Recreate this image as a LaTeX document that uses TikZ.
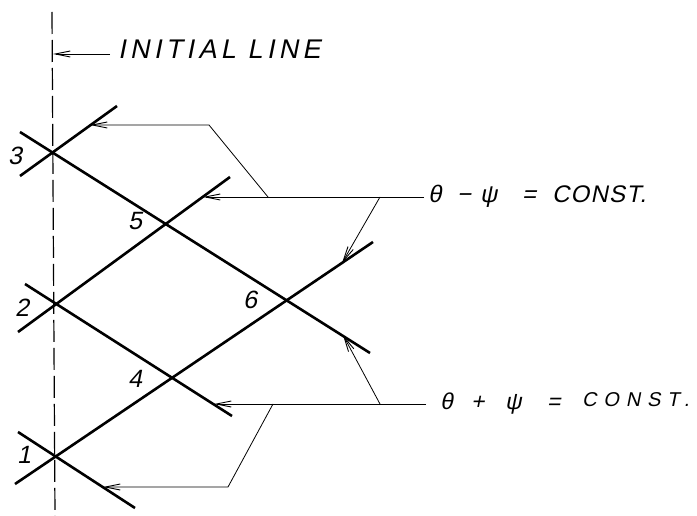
\documentclass[tikz,border=0pt]{standalone}
\usepackage{fontspec}
\newfontfamily\hand{Liberation Sans}[FakeSlant=0.2]
\newfontfamily\handA{Liberation Sans}[FakeSlant=0.2,LetterSpace=16]
\newfontfamily\handB{Liberation Sans}[FakeSlant=0.2,LetterSpace=5]
\newfontfamily\handC{Liberation Sans}[FakeSlant=0.2,LetterSpace=34]
\usetikzlibrary{arrows.meta}
\begin{document}
\begin{tikzpicture}[x=1pt,y=-1pt,
  char/.style={line width=2.6pt},
  lead/.style={line width=0.8pt},
  arr/.style={lead,-{Straight Barb[length=15pt,width=6pt,line width=0.9pt]}},
  initline/.style={line width=1.2pt,dash pattern=on 22pt off 6pt},
  num/.style={font=\hand\fontsize{25}{25}\selectfont,inner sep=0pt},
  lbl/.style={inner sep=0pt,anchor=base west},
  eqA/.style={lbl,font=\hand\fontsize{24}{24}\selectfont},
  eqB/.style={lbl,font=\hand\fontsize{23}{23}\selectfont}]
\useasboundingbox (0,0) rectangle (697,516);
% initial line
\coordinate (iltop) at (52,12);
\coordinate (ilbot) at (55,516);
\draw[initline] (iltop) -- (ilbot);
% characteristic lines
\coordinate (a1) at (20,132);  \coordinate (a2) at (370,353);
\coordinate (b1) at (18,332);  \coordinate (b2) at (230,177);
\coordinate (c1) at (20,176);  \coordinate (c2) at (117,106);
\coordinate (d1) at (25,284);  \coordinate (d2) at (232,416);
\coordinate (e1) at (15,484);  \coordinate (e2) at (373,242);
\coordinate (f1) at (18,432);  \coordinate (f2) at (135,508);
\draw[char] (a1) -- (a2);
\draw[char] (b1) -- (b2);
\draw[char] (c1) -- (c2);
\draw[char] (d1) -- (d2);
\draw[char] (e1) -- (e2);
\draw[char] (f1) -- (f2);
% point labels
\node[num] (n3) at (15,156) {3};
\node[num] (n5) at (135,221) {5};
\node[num] (n2) at (22,308) {2};
\node[num] (n6) at (250,300) {6};
\node[num] (n4) at (135,379) {4};
\node[num] (n1) at (24,455) {1};
% INITIAL LINE label
\node[lbl] (tinit) at (118,59) {\handA\fontsize{27}{27}\selectfont INITIAL LINE};
\coordinate (ilS) at (110,54);
\coordinate (ilT) at (53,54);
\draw[arr] (ilS) -- (ilT);
% theta - psi = CONST.
\node[eqA] (mth) at (428,203) {θ};
\node[eqA] (mmi) at (457,203) {−};
\node[eqA] (mps) at (480,203) {ψ};
\node[eqA] (meq) at (522,203) {=};
\node[lbl] (mco) at (552,203) {\handB\fontsize{24}{24}\selectfont CONST.};
\coordinate (mR) at (424,197);
\coordinate (mA) at (203,197);
\coordinate (mK) at (268,197);
\coordinate (mU) at (209,125);
\coordinate (mT) at (90,125);
\coordinate (mK2) at (380,197);
\coordinate (mT2) at (342,263);
\draw[arr] (mR) -- (mA);
\draw[arr] (mK) -- (mU) -- (mT);
\draw[arr] (mK2) -- (mT2);
% theta + psi = CONST.
\node[eqB] (pth) at (440,409) {θ};
\node[eqB] (ppl) at (471,409) {+};
\node[eqB] (pps) at (505,409) {ψ};
\node[eqB] (peq) at (547,409) {=};
\node[lbl] (pco) at (582,406) {\handC\fontsize{20}{20}\selectfont CONST.};
\coordinate (pR) at (426,404);
\coordinate (pA) at (214,404);
\coordinate (pK) at (273,404);
\coordinate (pD) at (228,487);
\coordinate (pT) at (103,487);
\coordinate (pK2) at (380,404);
\coordinate (pT2) at (343,335);
\draw[arr] (pR) -- (pA);
\draw[arr] (pK) -- (pD) -- (pT);
\draw[arr] (pK2) -- (pT2);
\end{tikzpicture}
\end{document}
